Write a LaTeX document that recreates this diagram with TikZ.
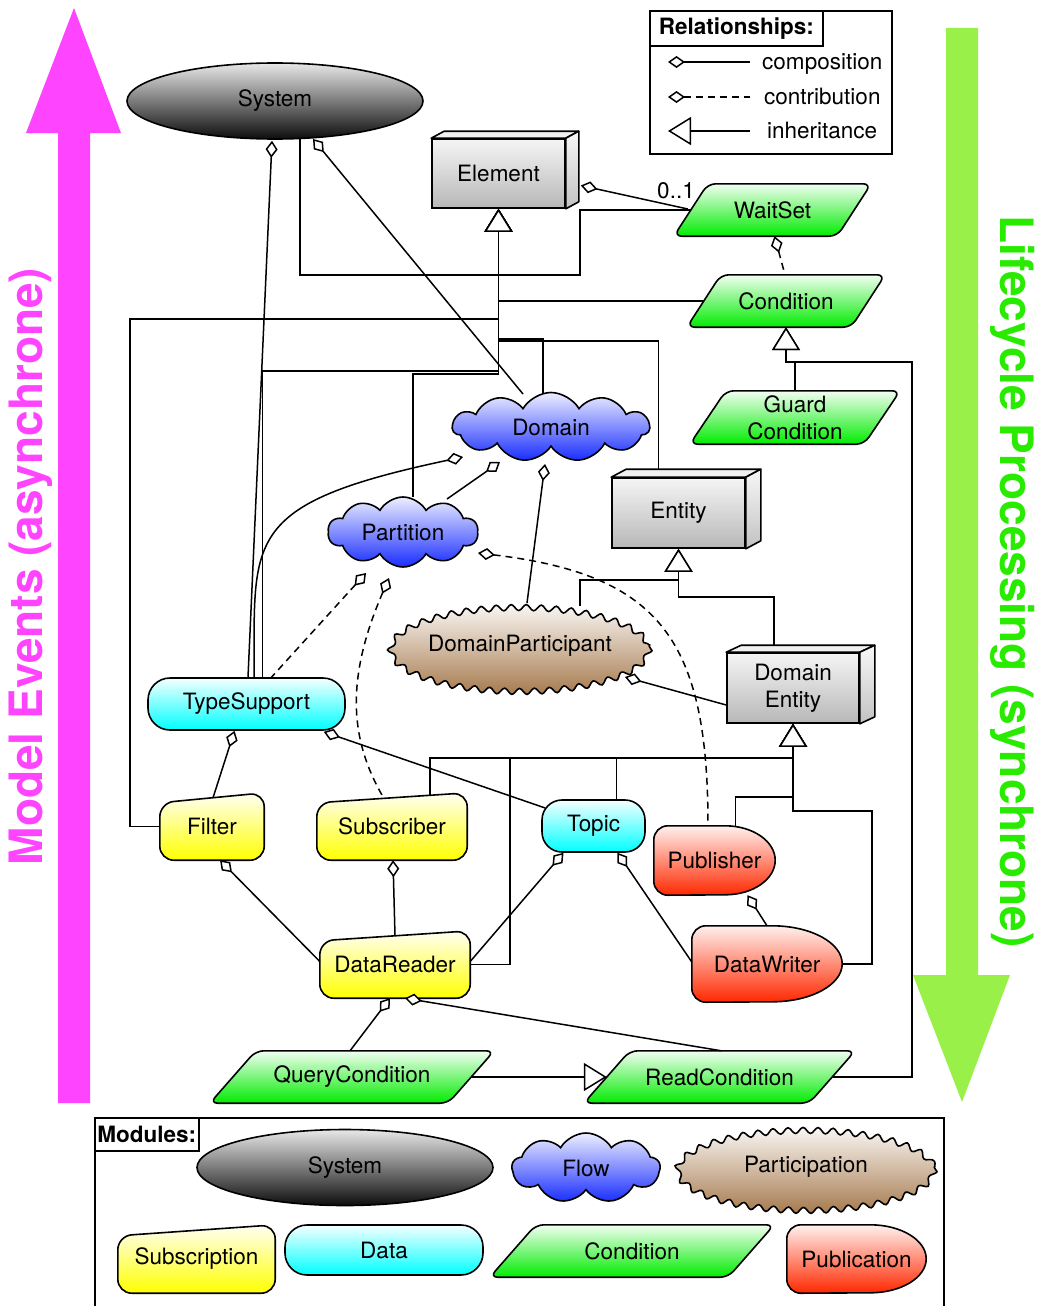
\documentclass[tikz,border=0pt]{standalone}
\usepackage{fontspec}
\setmainfont{TeX Gyre Heros}
\usetikzlibrary{arrows.meta,calc,shapes.geometric,shapes.symbols,decorations.pathmorphing,backgrounds}

\definecolor{evtmag}{RGB}{255,68,255}
\definecolor{lifebar}{RGB}{152,240,72}
\definecolor{lifetext}{RGB}{40,235,0}
\definecolor{flowblue}{RGB}{25,45,255}
\definecolor{partbrown}{RGB}{166,122,78}
\definecolor{condgreen}{RGB}{0,236,0}
\definecolor{pubred}{RGB}{255,40,0}

% yellow body: rounded box with a slanted top edge
\newcommand\yellowbody[2]{%
  \begin{scope}[on background layer]
    \path[outline, subfill, rounded corners=14pt]
      (#1.south west) -- ($(#1.north west)+(0,#2)$) -- (#1.north east)
      -- (#1.south east) -- cycle;
  \end{scope}}
% green body: parallelogram with rounded corners
\newcommand\greenbody[2]{%
  \begin{scope}[on background layer]
    \path[outline, condfill, rounded corners=8pt]
      (#1.south west) -- ($(#1.north west)+(#2,0)$) -- (#1.north east)
      -- ($(#1.south east)+(-#2,0)$) -- cycle;
  \end{scope}}
% red body: flat left side, half ellipse on the right
\newcommand\redbody[3]{%
  \begin{scope}[on background layer]
    \path[outline, pubfill]
      ($(#1.north west)+(0,14)$) arc[start angle=180, end angle=270, radius=14]
      -- ($(#1.north east)+(-#2,0)$)
      arc[start angle=-90, end angle=90, x radius=#2, y radius=#3]
      -- ($(#1.south west)+(14,0)$)
      arc[start angle=90, end angle=180, radius=14] -- cycle;
  \end{scope}}
% brown body: wavy ellipse
\newcommand\wavybody[3]{%
  \begin{scope}[on background layer]
    \path[outline, dpfill, decorate,
          decoration={snake, segment length=15pt, amplitude=3pt}]
      (#1.center) ellipse [x radius=#2, y radius=#3];
  \end{scope}}
% top and side faces of a 3D box
\newcommand\boxfaces[3]{%
  \path[outline, fill=black!6, line join=round]
    (#1.north west) -- ++(#2,-#3) -- ($(#1.north east)+(#2,-#3)$)
    -- (#1.north east) -- cycle;
  \path[outline, top color=black!3, bottom color=black!24, line join=round]
    (#1.north east) -- ($(#1.north east)+(#2,-#3)$)
    -- ($(#1.south east)+(#2,-#3)$) -- (#1.south east) -- cycle;}

\begin{document}
\begin{tikzpicture}[x=1pt, y=-1pt,
  lbl/.style={font=\fontsize{22.5}{27}\selectfont, inner sep=0pt, align=center},
  bold/.style={font=\fontsize{22.5}{27}\selectfont\bfseries, inner sep=0pt, align=center},
  outline/.style={draw=black, line width=1.6pt},
  sysfill/.style={top color=black!9, bottom color=black!95},
  boxfill/.style={top color=black!4, bottom color=black!28},
  flowfill/.style={top color=flowblue!8, bottom color=flowblue},
  dpfill/.style={top color=partbrown!6, bottom color=partbrown},
  datafill/.style={top color=cyan!4, bottom color=cyan},
  subfill/.style={top color=yellow!4, bottom color=yellow},
  condfill/.style={top color=condgreen!5, bottom color=condgreen},
  pubfill/.style={top color=pubred!7, bottom color=pubred},
  flowcloud/.style={cloud, cloud puff arc=120, cloud ignores aspect, outline, flowfill},
  comp/.style={line width=1.5pt, {Diamond[open,fill=white,length=17pt,width=12pt]}-},
  contrib/.style={comp, dash pattern=on 7pt off 5pt},
  inh/.style={line width=1.5pt, -{Triangle[open,fill=white,length=23pt,width=28pt]}},
  bigtext/.style={font=\fontsize{46}{46}\selectfont\bfseries, inner sep=0pt},
]
\useasboundingbox (0,0) rectangle (1037,1306);

% ---- side arrows ----
\path[fill=evtmag] (58,1103) -- (58,133) -- (26,133) -- (74,8) -- (121,133)
  -- (90,133) -- (90,1103) -- cycle;
\node[bigtext, text=evtmag, rotate=90] (evt) at (31,566.5) {Model Events (asynchrone)};
\path[fill=lifebar] (946,28) -- (978,28) -- (978,975) -- (1010,975) -- (962,1102)
  -- (913,975) -- (946,975) -- cycle;
\node[bigtext, text=lifetext, rotate=-90] (life) at (1013,581.5) {Lifecycle Processing (synchrone)};

% ---- relationships legend ----
\node[outline, anchor=north west, minimum width=242pt, minimum height=143pt] (relbox) at (649,10) {};
\node[outline, bold, anchor=north west, minimum width=173pt, minimum height=35pt] (relhead) at (649,10) {Relationships:};
\coordinate (ca) at (668,62);  \coordinate (cb) at (750,62);
\coordinate (ka) at (668,97);  \coordinate (kb) at (750,97);
\coordinate (ia) at (668,131); \coordinate (ib) at (750,131);
\draw[comp] (ca) -- (cb);
\draw[contrib] (ka) -- (kb);
\draw[inh] (ib) -- (ia);
\node[lbl, anchor=base west] (ctext) at (762,70) {composition};
\node[lbl, anchor=base west] (ktext) at (764,104) {contribution};
\node[lbl, anchor=base west] (itext) at (767,138) {inheritance};

% ---- modules legend ----
\node[outline, anchor=north west, minimum width=849pt, minimum height=220pt] (modbox) at (94,1117) {};
\node[outline, bold, anchor=north west, minimum width=104pt, minimum height=33pt] (modhead) at (94,1117) {Modules:};
\node[lbl, ellipse, outline, sysfill, minimum width=296pt, minimum height=76pt] (msys) at (345,1167.5) {System};
\node[lbl, flowcloud, cloud puffs=9, minimum width=148pt, minimum height=70pt] (mflow) at (586,1168) {Flow};
\node[lbl, ellipse, minimum width=254pt, minimum height=78pt] (mpart) at (806,1167) {Participation};
\wavybody{mpart}{128}{40}
\node[lbl, minimum width=157pt, minimum height=68pt] (msub) at (196.5,1259) {Subscription};
\yellowbody{msub}{11}
\node[lbl, outline, datafill, rounded corners=22pt, minimum width=198pt, minimum height=50pt] (mdata) at (384,1250) {Data};
\node[lbl, minimum width=284pt, minimum height=52pt] (mcond) at (632,1251) {Condition};
\greenbody{mcond}{46}
\node[lbl, minimum width=139pt, minimum height=68pt] (mpub) at (856.5,1259) {Publication};
\redbody{mpub}{56}{34}

% ---- model elements ----
\node[lbl, ellipse, outline, sysfill, minimum width=296pt, minimum height=76pt] (sys) at (275,101) {System};

\node[lbl, outline, boxfill, minimum width=133pt, minimum height=69pt] (elem) at (498.5,173.5) {Element};
\boxfaces{elem}{13}{7}
\node[lbl, outline, boxfill, minimum width=133pt, minimum height=70pt] (ent) at (678.5,513) {Entity};
\boxfaces{ent}{15}{8}
\node[lbl, outline, boxfill, minimum width=132pt, minimum height=70pt] (dent) at (793,688) {Domain\\Entity};
\boxfaces{dent}{15}{7}

\node[lbl, minimum width=197pt, minimum height=52pt] (wait) at (772.5,210) {WaitSet};
\greenbody{wait}{34}
\node[lbl, minimum width=198pt, minimum height=52pt] (cond) at (786,301) {Condition};
\greenbody{cond}{34}
\node[lbl, minimum width=210pt, minimum height=53pt] (guard) at (795,417.5) {Guard\\Condition};
\greenbody{guard}{36}
\node[lbl, minimum width=284pt, minimum height=52pt] (qc) at (352,1077) {QueryCondition};
\greenbody{qc}{46}
\node[lbl, minimum width=271pt, minimum height=52pt] (rc) at (719.5,1077) {ReadCondition};
\greenbody{rc}{46}

\node[lbl, flowcloud, cloud puffs=11, minimum width=197pt, minimum height=69pt] (dom) at (551,427) {Domain};
\node[lbl, flowcloud, cloud puffs=10, minimum width=150pt, minimum height=70pt] (part) at (403,532) {Partition};

\node[lbl, ellipse, minimum width=256pt, minimum height=82pt] (dp) at (520,646) {DomainParticipant};
\wavybody{dp}{129}{42}

\node[lbl, outline, datafill, rounded corners=22pt, minimum width=197pt, minimum height=52pt] (ts) at (246.5,704) {TypeSupport};
\node[lbl, outline, datafill, rounded corners=20pt, minimum width=103pt, minimum height=52pt] (topic) at (593.5,826) {Topic};

\node[lbl, minimum width=104pt, minimum height=67pt] (filt) at (212,826.5) {Filter};
\yellowbody{filt}{10}
\node[lbl, minimum width=150pt, minimum height=67pt] (subs) at (392,826.5) {Subscriber};
\yellowbody{subs}{10}
\node[lbl, minimum width=150pt, minimum height=67pt] (dr) at (395,964.5) {DataReader};
\yellowbody{dr}{10}

\node[lbl, minimum width=121pt, minimum height=69pt] (pub) at (714.5,860.5) {Publisher};
\redbody{pub}{50}{34.5}
\node[lbl, minimum width=150pt, minimum height=76pt] (dw) at (767,964) {DataWriter};
\redbody{dw}{70}{38}

% ---- compositions ----
\draw[comp] ($(sys.south)+(-3,1)$) -- ($(ts.north)+(1.5,0)$);
\draw[comp] ($(sys.center)+(38,38)$) -- ($(dom.center)+(-28,-33)$);
\draw[comp] ($(elem.east)+(15,12)$) -- ($(wait.west)+(14,-1)$);
\node[lbl] (mult) at (676,191) {0..1};
\draw[comp] ($(dom.center)+(-88,30)$) .. controls ($(ts.north)+(-6.5,-173)$)
  and ($(ts.north)+(8.5,-138)$) .. ($(ts.north)+(7.5,0)$);
\draw[comp] ($(dom.center)+(-51,35)$) -- ($(part.center)+(44,-33)$);
\draw[comp] ($(dom.center)+(-6,37)$) -- ($(dp.center)+(7,-43)$);
\draw[comp] ($(dp.center)+(105,31)$) -- ($(dent.west)+(0,17)$);
\draw[comp] ($(ts.south)+(-12,0)$) -- ($(filt.north)+(1,5)$);
\draw[comp] ($(ts.south east)+(-22,1)$) -- ($(topic.west)+(4,-18)$);
\draw[comp] ($(filt.south)+(8,0)$) -- ($(dr.west)+(0,-3)$);
\draw[comp] ($(subs.south)+(1,0)$) -- ($(dr.north)+(0,5)$);
\draw[comp] ($(topic.south)+(-30,0)$) -- ($(dr.east)+(0,-3)$);
\draw[comp] ($(topic.south)+(24,0)$) -- ($(dw.west)+(0,-2)$);
\draw[comp] ($(pub.south)+(33,0)$) -- (dw.north);
\draw[comp] ($(dr.south)+(-5,0)$) -- ($(qc.north)+(-2,0)$);
\draw[comp] ($(dr.south)+(10,0)$) -- ($(rc.north)+(2,0)$);

% ---- contributions ----
\draw[contrib] ($(wait.south)+(2,0)$) -- ($(cond.north)+(-1,0)$);
\draw[contrib] ($(part.center)+(-37,41)$) -- ($(ts.north)+(25,0)$);
\draw[contrib] ($(part.center)+(-14,46)$) .. controls ($(subs.north)+(-47,-113)$)
  and ($(subs.north)+(-42,-53)$) .. ($(subs.north)+(-9,4)$);
\draw[contrib] ($(part.center)+(75,21)$) .. controls ($(pub.north)+(-54.5,-251)$)
  and ($(pub.north)+(-6.5,-186)$) .. ($(pub.north)+(-6.5,0)$);

% ---- plain link System to WaitSet ----
\draw[line width=1.5pt] ($(sys.center)+(25,38)$) -- ++(0,136)
  -| ($(elem.east)+(14,36.5)$) -- ($(wait.west)+(17,0)$);

% ---- inheritance ----
\draw[inh] ($(cond.west)+(17,0)$) -| (elem.south);
\draw[inh] (filt.west) -- ++(-30,0) |- ($(elem.south)+(0,110)$) -- (elem.south);
\draw[inh] ($(ts.north)+(16,0)$) |- ($(elem.south)+(0,162)$) -- (elem.south);
\draw[inh] ($(dom.center)+(-8,-33)$) |- ($(elem.south)+(0,130)$) -- (elem.south);
\draw[inh] ($(ent.north)+(-20,-8)$) |- ($(elem.south)+(0,132)$) -- (elem.south);
\draw[inh] ($(part.center)+(10,-35)$) |- ($(elem.south)+(0,165)$) -- (elem.south);

\draw[inh] ($(dp.center)+(60,-40)$) |- ($(ent.south)+(0,31)$) -- (ent.south);
\draw[inh] ($(dent.north)+(-19,-7)$) |- ($(ent.south)+(0,48)$) -- (ent.south);

\draw[inh] ($(subs.north)+(38,2)$) |- ($(dent.south)+(0,34)$) -- (dent.south);
\draw[inh] (dr.east) -- ++(40,0) |- ($(dent.south)+(0,34)$) -- (dent.south);
\draw[inh] ($(topic.north)+(23,0)$) |- ($(dent.south)+(0,34)$) -- (dent.south);
\draw[inh] ($(pub.north)+(21,0)$) |- ($(dent.south)+(0,73)$) -- (dent.south);
\draw[inh] (dw.east) -- ++(30,0) |- ($(dent.south)+(0,87)$) -- (dent.south);

\draw[inh] (guard.north) |- ($(cond.south)+(0,35)$) -- (cond.south);
\draw[inh] ($(rc.east)+(-22,0)$) -- ++(79,0) |- ($(cond.south)+(0,35)$) -- (cond.south);
\draw[inh] ($(qc.east)+(-23,0)$) -- ($(rc.west)+(23,0)$);
\end{tikzpicture}
\end{document}
